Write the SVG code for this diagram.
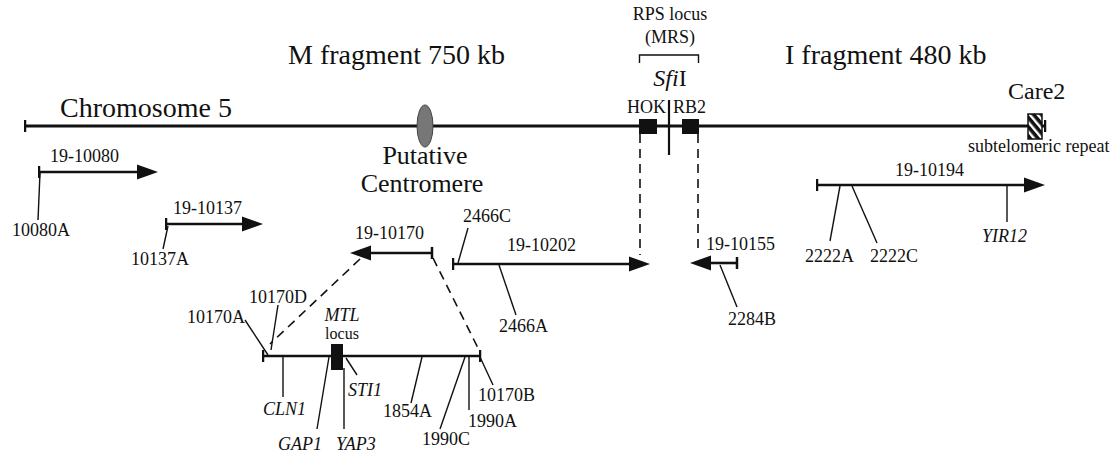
<svg xmlns="http://www.w3.org/2000/svg" width="1113" height="456" viewBox="0 0 1113 456" font-family="'Liberation Serif','Times New Roman',serif">
<style>
text{font-family:"Liberation Serif","Times New Roman",serif;fill:#111}
.big{font-size:28px}
.cen{font-size:26px}
.mid{font-size:24px}
.sm{font-size:18px}
.xs{font-size:16px}
.it{font-style:italic}
.thick{stroke:#111;stroke-width:3;fill:none}
.clone{stroke:#111;stroke-width:2.6;fill:none}
.lead{stroke:#111;stroke-width:1.4;fill:none}
.dash{stroke:#111;stroke-width:1.6;fill:none;stroke-dasharray:9,6}
</style>
<defs>
<marker id="arr" markerUnits="userSpaceOnUse" markerWidth="22" markerHeight="16" refX="0" refY="8" orient="auto">
<path d="M0,0.5 L21,8 L0,15.5 z" fill="#111"/>
</marker>
<marker id="tick" markerUnits="userSpaceOnUse" markerWidth="4" markerHeight="14" refX="1.5" refY="7" orient="auto">
<path d="M1.5,1 V13" stroke="#111" stroke-width="2.5"/>
</marker>
<pattern id="hatch" patternUnits="userSpaceOnUse" width="6" height="6" patternTransform="rotate(-40)">
<rect width="6" height="6" fill="#111"/>
<rect width="2.4" height="6" fill="#fff"/>
</pattern>
</defs>
<rect width="1113" height="456" fill="#fff"/>

<g id="titles">
<text class="big" x="288" y="64">M fragment 750 kb</text>
<text class="big" x="785" y="64">I fragment 480 kb</text>
<text class="big" x="60" y="117">Chromosome 5</text>
</g>

<g id="chromosome">
<line class="thick" x1="25" y1="126" x2="1045" y2="126" marker-start="url(#tick)" marker-end="url(#tick)"/>
</g>

<g id="centromere">
<ellipse cx="425" cy="126" rx="8" ry="21" fill="#777" stroke="#444" stroke-width="1"/>
<text class="cen" x="425" y="164" text-anchor="middle">Putative</text>
<text class="cen" x="422" y="192" text-anchor="middle">Centromere</text>
</g>

<g id="rps-locus">
<text class="sm" x="670" y="20" text-anchor="middle">RPS locus</text>
<text class="sm" x="670" y="43" text-anchor="middle">(MRS)</text>
<path class="lead" d="M639.5,63 V55 H698.5 V63" stroke-width="2"/>
<text class="mid" x="670" y="86" text-anchor="middle"><tspan class="it">Sfi</tspan>I</text>
<text class="sm" x="666" y="113" text-anchor="end">HOK</text>
<text class="sm" x="673" y="113">RB2</text>
<rect x="639" y="119" width="18" height="15" fill="#111"/>
<rect x="682" y="119" width="17" height="15" fill="#111"/>
<line x1="669" y1="100" x2="669" y2="155" stroke="#111" stroke-width="2.2"/>
</g>

<g id="care2">
<text class="mid" x="1008" y="99">Care2</text>
<rect x="1028" y="114" width="14" height="25" fill="url(#hatch)" stroke="#111" stroke-width="1.5"/>
<text class="sm" x="968" y="152">subtelomeric repeat</text>
</g>

<g id="clone-19-10080">
<line class="clone" x1="39" y1="172" x2="137" y2="172" marker-start="url(#tick)" marker-end="url(#arr)"/>
<text class="sm" x="50" y="162">19-10080</text>
<line class="lead" x1="40" y1="173" x2="38" y2="220"/>
<text class="sm" x="12" y="236">10080A</text>
</g>

<g id="clone-19-10137">
<line class="clone" x1="166" y1="224" x2="242" y2="224" marker-start="url(#tick)" marker-end="url(#arr)"/>
<text class="sm" x="173" y="214">19-10137</text>
<line class="lead" x1="168" y1="226" x2="163" y2="249"/>
<text class="sm" x="131" y="265">10137A</text>
</g>

<g id="clone-19-10170">
<line class="clone" x1="432" y1="253" x2="371" y2="253" marker-start="url(#tick)" marker-end="url(#arr)"/>
<text class="sm" x="355" y="239">19-10170</text>
</g>

<g id="clone-19-10170-map">
<line class="clone" x1="263" y1="356" x2="480" y2="356" marker-start="url(#tick)" marker-end="url(#tick)"/>
<rect x="331" y="344" width="12" height="26" fill="#111"/>
<text class="sm it" x="342" y="321" text-anchor="middle">MTL</text>
<text class="xs" x="342" y="339" text-anchor="middle">locus</text>
<line class="lead" x1="245" y1="320" x2="268" y2="355"/>
<text class="sm" x="245" y="323" text-anchor="end">10170A</text>
<line class="lead" x1="278" y1="305" x2="271" y2="350"/>
<text class="sm" x="249" y="303">10170D</text>
<line class="lead" x1="283" y1="357" x2="283" y2="397"/>
<text class="sm it" x="263" y="415">CLN1</text>
<line class="lead" x1="329" y1="357" x2="317" y2="429"/>
<text class="sm it" x="278" y="450">GAP1</text>
<line class="lead" x1="344" y1="368" x2="344" y2="429"/>
<text class="sm it" x="336" y="450">YAP3</text>
<line class="lead" x1="346" y1="358" x2="357" y2="375"/>
<text class="sm it" x="348" y="396">STI1</text>
<line class="lead" x1="422" y1="357" x2="411" y2="403"/>
<text class="sm" x="383" y="417">1854A</text>
<line class="lead" x1="465" y1="357" x2="440" y2="429"/>
<text class="sm" x="422" y="445">1990C</text>
<line class="lead" x1="469" y1="357" x2="469" y2="410"/>
<text class="sm" x="468" y="427">1990A</text>
<line class="lead" x1="480" y1="357" x2="493" y2="385"/>
<text class="sm" x="478" y="401">10170B</text>
</g>

<g id="clone-19-10202">
<line class="clone" x1="453" y1="264" x2="629" y2="264" marker-start="url(#tick)" marker-end="url(#arr)"/>
<text class="sm" x="507" y="251">19-10202</text>
<line class="lead" x1="468" y1="228" x2="458" y2="263"/>
<text class="sm" x="463" y="222">2466C</text>
<line class="lead" x1="499" y1="265" x2="516" y2="315"/>
<text class="sm" x="499" y="332">2466A</text>
</g>

<g id="clone-19-10155">
<line class="clone" x1="737" y1="263" x2="711" y2="263" marker-start="url(#tick)" marker-end="url(#arr)"/>
<text class="sm" x="706" y="250">19-10155</text>
<line class="lead" x1="720" y1="265" x2="737" y2="307"/>
<text class="sm" x="728" y="325">2284B</text>
</g>

<g id="clone-19-10194">
<line class="clone" x1="817" y1="185" x2="1024" y2="185" marker-start="url(#tick)" marker-end="url(#arr)"/>
<text class="sm" x="895" y="176">19-10194</text>
<line class="lead" x1="840" y1="186" x2="830" y2="241"/>
<text class="sm" x="805" y="262">2222A</text>
<line class="lead" x1="852" y1="186" x2="877" y2="243"/>
<text class="sm" x="870" y="262">2222C</text>
<line class="lead" x1="1007" y1="186" x2="1007" y2="222"/>
<text class="sm it" x="982" y="242">YIR12</text>
</g>

<g id="connectors">
<line class="dash" x1="640" y1="134" x2="640" y2="255"/>
<line class="dash" x1="698" y1="134" x2="698" y2="253"/>
<line class="dash" x1="360" y1="259" x2="270" y2="344"/>
<line class="dash" x1="433" y1="258" x2="480" y2="352"/>
</g>
</svg>
